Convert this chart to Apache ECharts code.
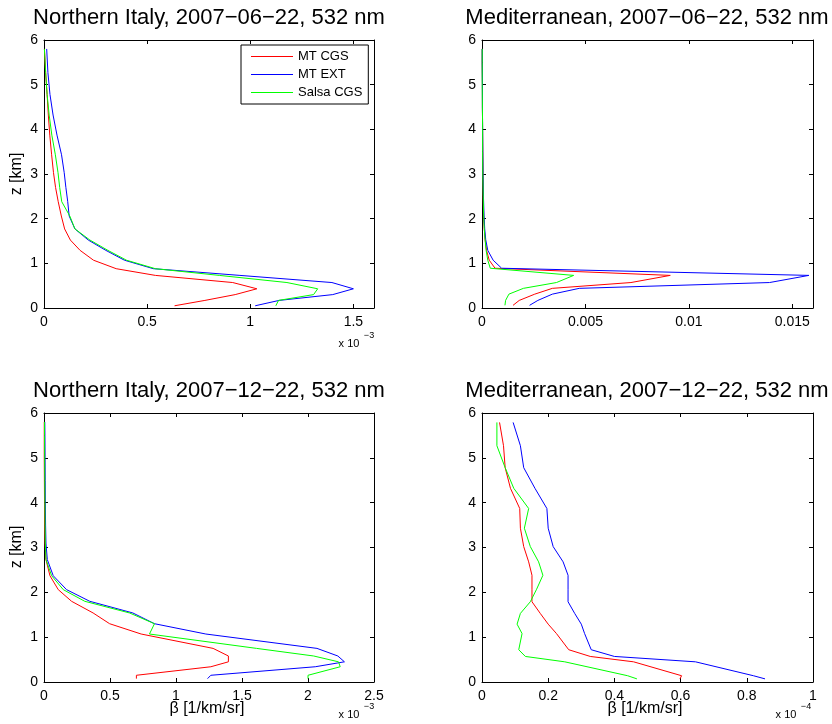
<!DOCTYPE html>
<html>
<head>
<meta charset="utf-8">
<script src="https://cdn.jsdelivr.net/npm/echarts@6/dist/echarts.min.js"></script>
<style>
  html, body { margin: 0; padding: 0; background: #fff; }
  #chart { width: 832px; height: 724px; }
</style>
</head>
<body>
<div id="chart"></div>
<script>
// heights [km] and extinction-ish profiles
// panel 1: Northern Italy, 2007-06-22 (x in 1e-3)
const zNiJun = [0.05, 0.17, 0.30, 0.43, 0.57, 0.73, 0.88, 1.07, 1.29, 1.52, 1.77, 2.06, 2.38, 2.70, 3.03, 3.43, 3.87, 4.32, 4.78, 5.27, 5.80]
const mtCgsNiJun = [0.633, 0.78, 0.927, 1.032, 0.915, 0.54, 0.35, 0.24, 0.175, 0.128, 0.10, 0.084, 0.069, 0.056, 0.046, 0.037, 0.028, 0.021, 0.015, 0.008, 0.002]
const mtExtNiJun = [1.024, 1.14, 1.40, 1.50, 1.396, 0.95, 0.53, 0.39, 0.30, 0.215, 0.15, 0.122, 0.115, 0.106, 0.098, 0.085, 0.063, 0.044, 0.029, 0.019, 0.013]
const salsaNiJun = [1.124, 1.137, 1.307, 1.327, 1.178, 0.85, 0.54, 0.40, 0.31, 0.223, 0.15, 0.125, 0.086, 0.076, 0.068, 0.055, 0.038, 0.025, 0.015, 0.008, 0.002]

// panel 2: Mediterranean, 2007-06-22
const zMedJun = [0.06, 0.17, 0.31, 0.44, 0.57, 0.73, 0.89, 1.07, 1.29, 1.53, 1.78, 2.06, 2.5, 3.0, 3.5, 4.0, 4.5, 5.0, 5.5, 5.8]
const mtCgsMedJun = [0.0015, 0.0018, 0.00255, 0.0034, 0.0072, 0.0091, 0.00063, 0.00035, 0.00022, 0.00015, 0.00011, 0.00008, 0.00006, 0.00005, 0.00004, 0.00003, 0.00002, 0.00002, 0.00001, 0.00001]
const mtExtMedJun = [0.0023, 0.0027, 0.0034, 0.0047, 0.0139, 0.0158, 0.00095, 0.00054, 0.00028, 0.00018, 0.00013, 0.0001, 0.00007, 0.00005, 0.00004, 0.00003, 0.00002, 0.00002, 0.00001, 0.00001]
const salsaMedJun = [0.00111, 0.00114, 0.0013, 0.0020, 0.0036, 0.00443, 0.0004, 0.00028, 0.0002, 0.00015, 0.00011, 0.00008, 0.00006, 0.00004, 0.00003, 0.00003, 0.00002, 0.00001, 0.00001, 0.00001]

// panel 3: Northern Italy, 2007-12-22 (x in 1e-3)
const zNiDec = [0.075, 0.15, 0.34, 0.45, 0.58, 0.75, 1.07, 1.30, 1.54, 1.80, 2.06, 2.37, 2.73, 3.1, 3.5, 4.0, 4.5, 5.0, 5.5, 5.8]
const mtCgsNiDec = [0.70, 0.70, 1.264, 1.397, 1.397, 1.281, 0.736, 0.497, 0.372, 0.209, 0.108, 0.045, 0.015, 0.008, 0.005, 0.004, 0.003, 0.002, 0.002, 0.002]
const mtExtNiDec = [1.239, 1.264, 2.055, 2.276, 2.226, 2.068, 1.226, 0.837, 0.673, 0.347, 0.171, 0.07, 0.025, 0.015, 0.012, 0.01, 0.009, 0.008, 0.007, 0.006]
const salsaNiDec = [2.0, 2.0, 2.244, 2.231, 2.043, 1.61, 0.799, 0.837, 0.648, 0.309, 0.146, 0.058, 0.015, 0.01, 0.008, 0.007, 0.006, 0.005, 0.004, 0.004]

// panel 4: Mediterranean, 2007-12-22 (x in 1e-4)
const zMedDec = [0.07, 0.14, 0.45, 0.57, 0.72, 1.08, 1.29, 1.53, 1.79, 2.07, 2.38, 2.68, 3.02, 3.43, 3.87, 4.32, 4.78, 5.27, 5.79]
const mtCgsMedDec = [0.598, 0.603, 0.458, 0.327, 0.262, 0.225, 0.20, 0.176, 0.151, 0.151, 0.151, 0.141, 0.126, 0.116, 0.114, 0.086, 0.07, 0.065, 0.053]
const mtExtMedDec = [0.855, 0.82, 0.645, 0.40, 0.33, 0.31, 0.30, 0.28, 0.26, 0.26, 0.26, 0.245, 0.215, 0.20, 0.196, 0.16, 0.126, 0.116, 0.094]
const salsaMedDec = [0.468, 0.44, 0.25, 0.131, 0.111, 0.121, 0.106, 0.116, 0.146, 0.165, 0.184, 0.171, 0.146, 0.128, 0.141, 0.096, 0.07, 0.045, 0.045]

const seriesNames = ['MT CGS', 'MT EXT', 'Salsa CGS']
const seriesColors = ['#ff0000', '#0000ff', '#00ff00']
const panelTitles = [
  'Northern Italy, 2007−06−22, 532 nm',
  'Mediterranean, 2007−06−22, 532 nm',
  'Northern Italy, 2007−12−22, 532 nm',
  'Mediterranean, 2007−12−22, 532 nm'
]
const xMax = [1.6, 0.016, 2.5, 1]
const xInterval = [0.5, 0.005, 0.5, 0.2]

const FONT = 'Liberation Sans, Arial, Helvetica, sans-serif'

const panels = [
  { z: zNiJun, lines: [mtCgsNiJun, mtExtNiJun, salsaNiJun] },
  { z: zMedJun, lines: [mtCgsMedJun, mtExtMedJun, salsaMedJun] },
  { z: zNiDec, lines: [mtCgsNiDec, mtExtNiDec, salsaNiDec] },
  { z: zMedDec, lines: [mtCgsMedDec, mtExtMedDec, salsaMedDec] }
]

const grids = [
  { left: 44, top: 40, width: 330, height: 268 },
  { left: 482, top: 40, width: 331, height: 268 },
  { left: 44, top: 413, width: 330, height: 269 },
  { left: 482, top: 413, width: 331, height: 269 }
]

const lineAxis = { show: true, onZero: false, lineStyle: { color: '#000', width: 1 } }
const tickIn = { show: true, inside: true, length: 4, lineStyle: { color: '#000' } }

function xLabel(i) {
  return function (v) {
    const k = v / xInterval[i]
    if (Math.abs(k - Math.round(k)) > 1e-6) return ''
    return String(parseFloat(v.toFixed(4)))
  }
}

const xAxes = []
const yAxes = []
grids.forEach((g, i) => {
  const base = { type: 'value', gridIndex: i, min: 0, max: xMax[i], interval: xInterval[i], splitLine: { show: false }, axisLine: lineAxis, axisTick: tickIn }
  xAxes.push(Object.assign({}, base, {
    position: 'bottom',
    axisLabel: { color: '#000', fontSize: 14, fontFamily: FONT, margin: 7, formatter: xLabel(i), showMaxLabel: true }
  }))
  const ybase = { type: 'value', gridIndex: i, min: 0, max: 6, interval: 1, splitLine: { show: false }, axisLine: lineAxis, axisTick: tickIn }
  yAxes.push(Object.assign({}, ybase, {
    position: 'left',
    axisLabel: { color: '#000', fontSize: 14, fontFamily: FONT, margin: 6 }
  }))
})
// top and right frame edges with inward ticks
grids.forEach((g, i) => {
  xAxes.push({ type: 'value', gridIndex: i, min: 0, max: xMax[i], interval: xInterval[i], position: 'top',
    splitLine: { show: false }, axisLine: lineAxis, axisTick: tickIn, axisLabel: { show: false } })
  yAxes.push({ type: 'value', gridIndex: i, min: 0, max: 6, interval: 1, position: 'right',
    splitLine: { show: false }, axisLine: lineAxis, axisTick: tickIn, axisLabel: { show: false } })
})

const series = []
panels.forEach((p, i) => {
  p.lines.forEach((vals, k) => {
    series.push({
      name: seriesNames[k],
      type: 'line',
      xAxisIndex: i,
      yAxisIndex: i,
      symbol: 'none',
      silent: true,
      lineStyle: { color: seriesColors[k], width: 1 },
      itemStyle: { color: seriesColors[k] },
      data: p.z.map((z, j) => [vals[j], z])
    })
  })
})

function txt(x, y, text, size, extra) {
  return Object.assign({
    type: 'text', x: x, y: y,
    style: { text: text, fontSize: size, fontFamily: FONT, fill: '#000', align: 'center', verticalAlign: 'middle' }
  }, extra || {})
}

const graphics = [
  txt(209, 18, panelTitles[0], 22),
  txt(647, 18, panelTitles[1], 22),
  txt(209, 391, panelTitles[2], 22),
  txt(647, 391, panelTitles[3], 22),
  txt(17, 174, 'z [km]', 16, { rotation: Math.PI / 2 }),
  txt(17, 547, 'z [km]', 16, { rotation: Math.PI / 2 }),
  txt(207, 709, 'β [1/km/sr]', 16),
  txt(645, 709, 'β [1/km/sr]', 16),
  txt(349, 344, 'x 10', 11),
  txt(369, 336, '−3', 9),
  txt(349, 715, 'x 10', 11),
  txt(369, 707, '−3', 9),
  txt(786, 715, 'x 10', 11),
  txt(806, 707, '−4', 9)
]

const chart = echarts.init(document.getElementById('chart'), null, { renderer: 'canvas' })
chart.setOption({
  animation: false,
  backgroundColor: '#fff',
  grid: grids,
  xAxis: xAxes,
  yAxis: yAxes,
  legend: {
    data: seriesNames,
    orient: 'vertical',
    left: 241,
    top: 45,
    padding: [5, 6, 5, 10],
    itemGap: 5,
    itemWidth: 42,
    itemHeight: 12,
    icon: 'path://M0,0H42V1H0Z',
    borderColor: '#000',
    borderWidth: 1,
    backgroundColor: '#fff',
    selectedMode: false,
    textStyle: { color: '#000', fontSize: 13, fontFamily: FONT }
  },
  graphic: graphics,
  series: series
})
</script>
</body>
</html>
